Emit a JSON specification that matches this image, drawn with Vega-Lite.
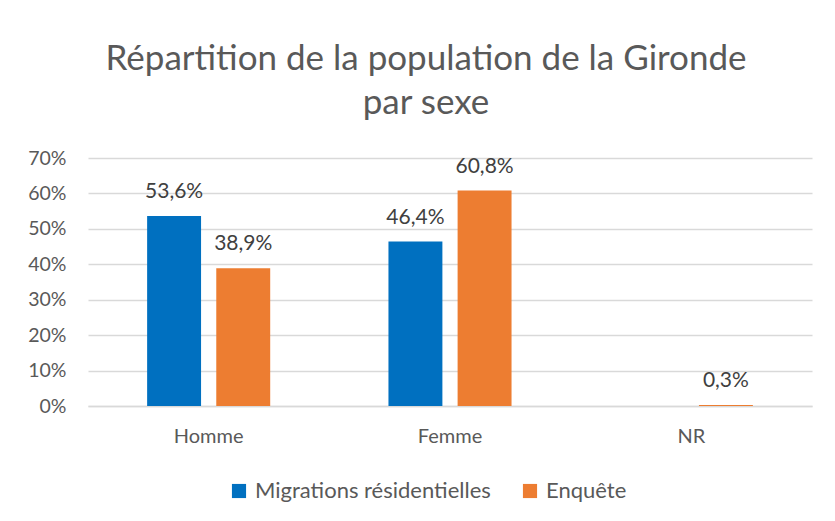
{
  "$schema": "https://vega.github.io/schema/vega-lite/v6.json",
  "width": 724,
  "height": 248,
  "autosize": "none",
  "padding": {"left": 88, "top": 158, "right": 23, "bottom": 115},
  "background": "white",
  "config": {
    "locale": {"number": {"decimal": ",", "thousands": " ", "grouping": [3], "currency": ["", " €"], "percent": "%"}},
    "font": "Lato",
    "view": {"stroke": null}
  },
  "title": {
    "text": ["Répartition de la population de la Gironde", "par sexe"],
    "fontSize": 35,
    "fontWeight": "normal",
    "color": "#595959",
    "lineHeight": 44,
    "anchor": "middle",
    "dx": -24,
    "offset": 27,
    "font": "Lato"
  },
  "data": {
    "values": [
      {"sexe": "Homme", "serie": "Migrations résidentielles", "part": 0.536},
      {"sexe": "Homme", "serie": "Enquête", "part": 0.389},
      {"sexe": "Femme", "serie": "Migrations résidentielles", "part": 0.464},
      {"sexe": "Femme", "serie": "Enquête", "part": 0.608},
      {"sexe": "NR", "serie": "Enquête", "part": 0.003}
    ]
  },
  "encoding": {
    "x": {
      "field": "sexe", "type": "nominal", "sort": ["Homme", "Femme", "NR"],
      "scale": {"paddingInner": 0.49, "paddingOuter": 0.245},
      "axis": {"title": null, "labelAngle": 0, "labelFontSize": 20, "labelColor": "#595959", "labelPadding": 20, "ticks": false, "domainColor": "#D9D9D9", "domainWidth": 1.3}
    },
    "xOffset": {
      "field": "serie", "type": "nominal", "sort": ["Migrations résidentielles", "Enquête"],
      "scale": {"paddingInner": 0.22, "paddingOuter": 0}
    },
    "y": {
      "field": "part", "type": "quantitative",
      "scale": {"domain": [0, 0.7]},
      "axis": {"title": null, "format": ".0%", "values": [0, 0.1, 0.2, 0.3, 0.4, 0.5, 0.6, 0.7], "labelFontSize": 19.5, "labelColor": "#595959", "labelPadding": 22, "ticks": false, "domain": false, "gridColor": "#D9D9D9", "gridWidth": 1.3}
    }
  },
  "layer": [
    {
      "mark": {"type": "bar"},
      "encoding": {
        "color": {
          "field": "serie", "type": "nominal",
          "sort": ["Migrations résidentielles", "Enquête"],
          "scale": {"domain": ["Migrations résidentielles", "Enquête"], "range": ["#0070C0", "#ED7D31"]},
          "legend": {"title": null, "orient": "none", "legendX": 140, "legendY": 322, "direction": "horizontal", "symbolType": "square", "symbolSize": 200, "symbolStrokeWidth": 0, "labelFontSize": 22, "labelColor": "#595959", "labelLimit": 0, "columnPadding": 28, "labelOffset": 5}
        }
      }
    },
    {
      "mark": {"type": "text", "baseline": "alphabetic", "dy": -18, "fontSize": 21, "color": "#404040"},
      "encoding": {
        "text": {"field": "part", "type": "quantitative", "format": ".1%"}
      }
    }
  ]
}
